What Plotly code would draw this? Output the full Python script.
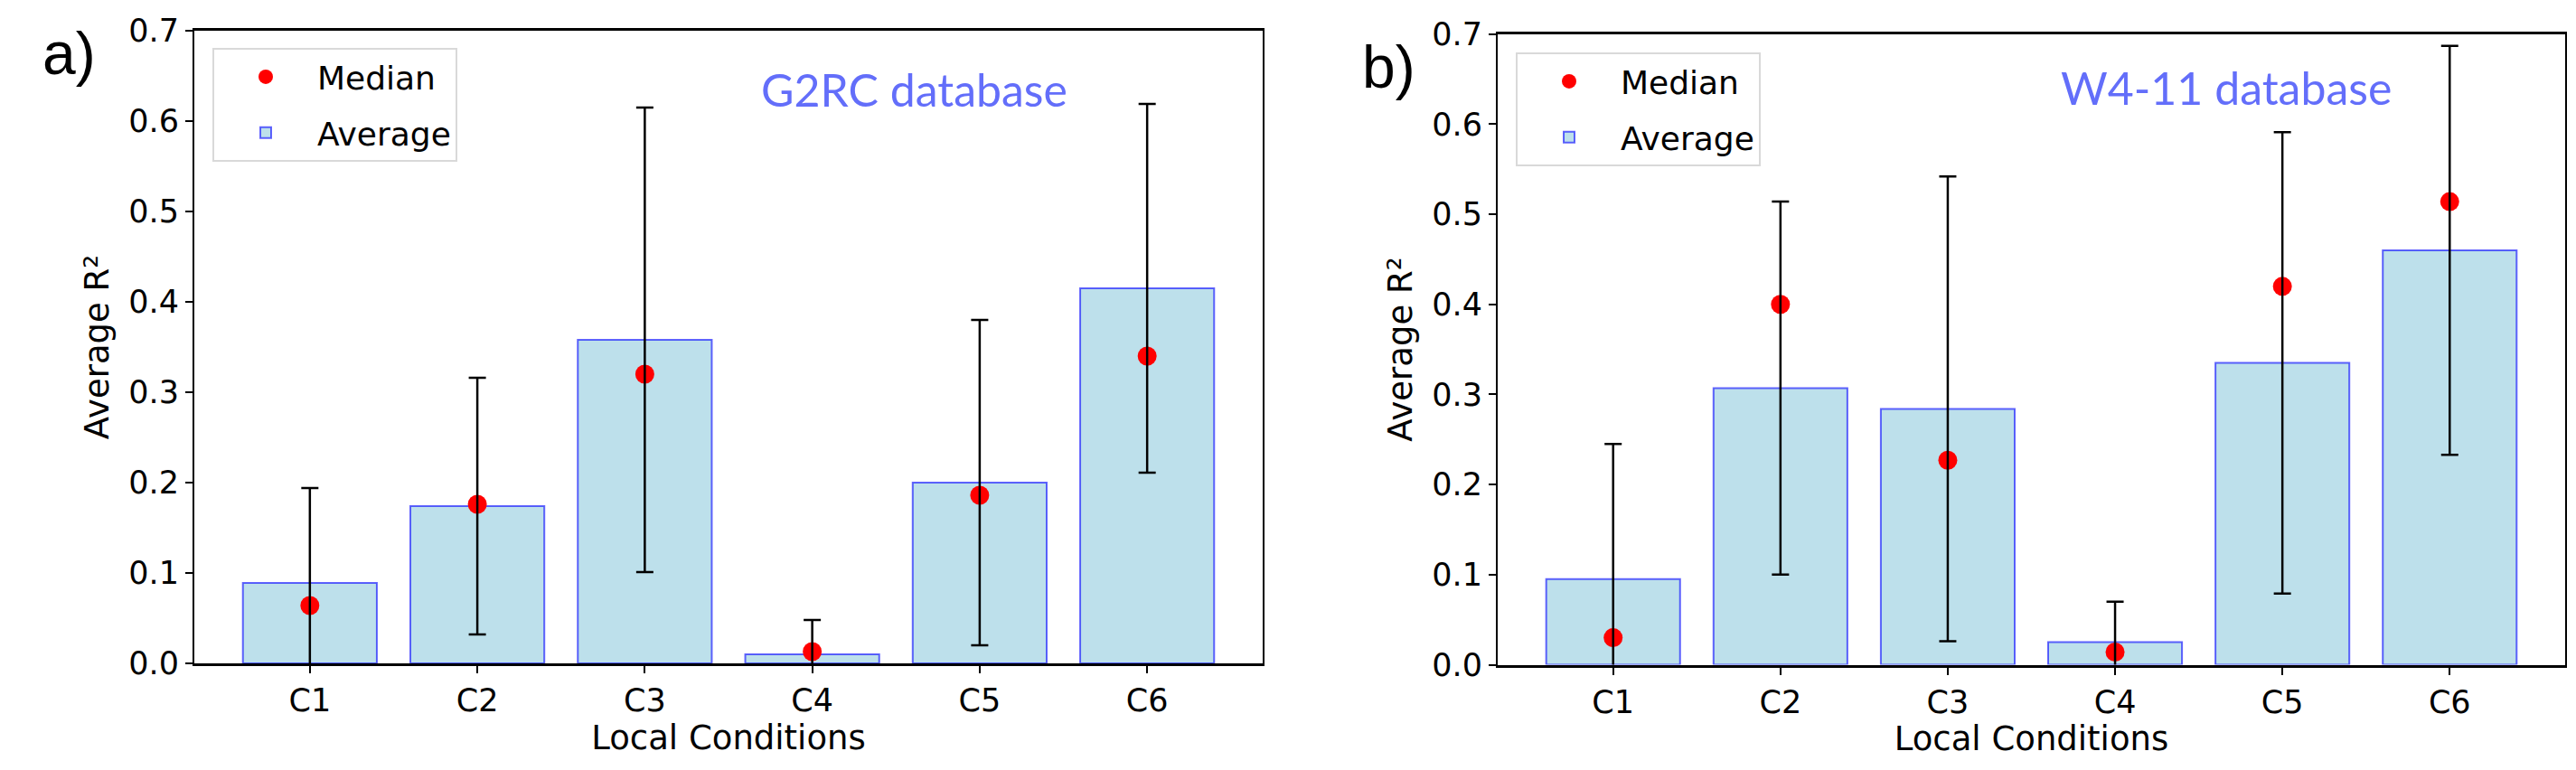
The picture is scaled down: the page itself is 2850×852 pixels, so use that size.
import plotly.graph_objects as go

# local conditions on the x axis
categories = ["C1", "C2", "C3", "C4", "C5", "C6"]

# G2RC database (panel a)
g2rc_mean = [0.089, 0.174, 0.358, 0.010, 0.200, 0.415]
g2rc_std = [0.105, 0.142, 0.257, 0.038, 0.180, 0.204]
g2rc_median = [0.064, 0.176, 0.320, 0.013, 0.186, 0.340]

# W4-11 database (panel b)
w4_mean = [0.095, 0.307, 0.284, 0.025, 0.335, 0.460]
w4_std = [0.150, 0.207, 0.258, 0.045, 0.256, 0.227]
w4_median = [0.030, 0.400, 0.227, 0.014, 0.420, 0.514]

y_ticks = [0.0, 0.1, 0.2, 0.3, 0.4, 0.5, 0.6, 0.7]

# the page body adds an 8px margin, so the figure is 16px smaller than the window
PAGE_PAD = 8
W, H = 2850 - 2 * PAGE_PAD, 852 - 2 * PAGE_PAD
FONT = "DejaVu Sans"
BAR_FILL = "rgba(173,216,230,0.8)"
BAR_EDGE = "rgba(0,0,255,0.6)"
DB_COLOR = "#636EFA"


def px_x(p):
    # screen pixel -> paper fraction
    return (p - PAGE_PAD) / W


def px_y(p):
    return (H + PAGE_PAD - p) / H


fig = go.Figure()


def add_panel(mean, std, median, xa, ya, legend):
    # dots = median, bars = average, error bars = spread around the average
    fig.add_trace(
        go.Scatter(
            x=categories,
            y=median,
            mode="markers",
            name="Median",
            marker=dict(color="red", size=21),
            xaxis=xa,
            yaxis=ya,
            legend=legend,
            legendgroup="median",
        )
    )
    fig.add_trace(
        go.Bar(
            x=categories,
            y=mean,
            width=0.8,
            name="Average",
            marker=dict(color=BAR_FILL, line=dict(color=BAR_EDGE, width=2)),
            xaxis=xa,
            yaxis=ya,
            legend=legend,
            legendgroup="average",
        )
    )
    fig.add_trace(
        go.Scatter(
            x=categories,
            y=mean,
            mode="markers",
            marker=dict(size=1, opacity=0),
            error_y=dict(
                type="data",
                array=std,
                color="black",
                thickness=2.5,
                width=9.5,
            ),
            showlegend=False,
            hoverinfo="skip",
            xaxis=xa,
            yaxis=ya,
        )
    )


add_panel(g2rc_mean, g2rc_std, g2rc_median, "x", "y", "legend")
add_panel(w4_mean, w4_std, w4_median, "x2", "y2", "legend2")

xaxis_style = dict(
    type="category",
    range=[-0.69, 5.69],
    automargin=False,
    showline=True,
    mirror=True,
    linecolor="black",
    linewidth=3,
    ticks="outside",
    ticklen=8,
    tickwidth=2,
    tickcolor="black",
    showgrid=False,
    zeroline=False,
    tickfont=dict(family=FONT, size=35, color="black"),
    title=dict(
        text="Local Conditions",
        font=dict(family=FONT, size=37, color="black"),
        standoff=8,
    ),
)

yaxis_style = dict(
    range=[0, 0.7],
    automargin=False,
    tickvals=y_ticks,
    tickformat=".1f",
    showline=True,
    mirror=True,
    linecolor="black",
    linewidth=2,
    ticks="outside",
    ticklen=8,
    tickwidth=2,
    tickcolor="black",
    showgrid=False,
    zeroline=False,
    tickfont=dict(family=FONT, size=35, color="black"),
    title=dict(
        text="Average R²",
        font=dict(family=FONT, size=37, color="black"),
        standoff=10,
    ),
)

legend_style = dict(
    xanchor="left",
    yanchor="top",
    bgcolor="rgba(255,255,255,0.8)",
    bordercolor="#d9d9d9",
    borderwidth=2,
    font=dict(family=FONT, size=36, color="black"),
    itemsizing="trace",
    itemwidth=104,
    traceorder="grouped",
    tracegroupgap=12,
)

db_font = dict(family="Lato", size=50, color=DB_COLOR)

fig.update_layout(
    width=W,
    height=H,
    margin=dict(l=0, r=0, t=0, b=0, autoexpand=False),
    paper_bgcolor="white",
    plot_bgcolor="white",
    xaxis=dict(domain=[px_x(215), px_x(1397)], anchor="y", **xaxis_style),
    yaxis=dict(domain=[px_y(734), px_y(34)], anchor="x", **yaxis_style),
    xaxis2=dict(domain=[px_x(1657), px_x(2838)], anchor="y2", **xaxis_style),
    yaxis2=dict(domain=[px_y(735.5), px_y(37.7)], anchor="x2", **yaxis_style),
    legend=dict(x=px_x(235), y=px_y(53), **legend_style),
    legend2=dict(x=px_x(1677), y=px_y(58), **legend_style),
    annotations=[
        dict(
            text="a)", x=px_x(45), y=px_y(59), xref="paper", yref="paper",
            xanchor="left", yanchor="middle", showarrow=False,
            font=dict(family="Liberation Sans", size=66, color="black"),
        ),
        dict(
            text="b)", x=px_x(1505), y=px_y(74), xref="paper", yref="paper",
            xanchor="left", yanchor="middle", showarrow=False,
            font=dict(family="Liberation Sans", size=66, color="black"),
        ),
        dict(
            text="G2RC database", x=px_x(1011.5), y=px_y(99),
            xref="paper", yref="paper", xanchor="center", yanchor="middle",
            showarrow=False, font=db_font,
        ),
        dict(
            text="W4-11 database", x=px_x(2463), y=px_y(97),
            xref="paper", yref="paper", xanchor="center", yanchor="middle",
            showarrow=False, font=db_font,
        ),
    ],
)

fig.write_html("out.html")
